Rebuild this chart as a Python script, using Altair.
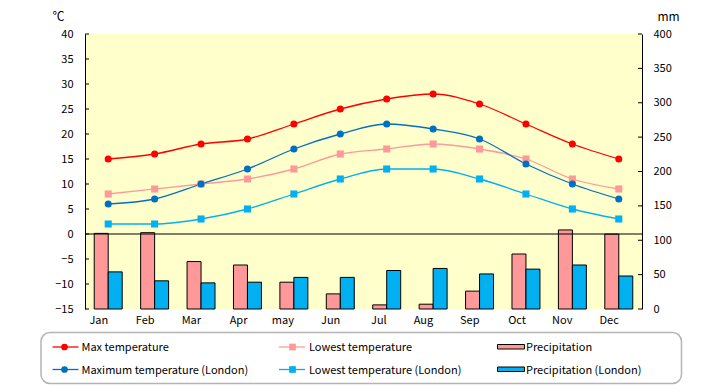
import altair as alt
import pandas as pd

months = ["Jan", "Feb", "Mar", "Apr", "may", "Jun", "Jul", "Aug", "Sep", "Oct", "Nov", "Dec"]
max_temp = [15, 16, 18, 19, 22, 25, 27, 28, 26, 22, 18, 15]
low_temp = [8, 9, 10, 11, 13, 16, 17, 18, 17, 15, 11, 9]
max_london = [6, 7, 10, 13, 17, 20, 22, 21, 19, 14, 10, 7]
low_london = [2, 2, 3, 5, 8, 11, 13, 13, 11, 8, 5, 3]
precip = [110, 111, 69, 64, 39, 22, 6, 7, 26, 80, 115, 109]
precip_london = [54, 41, 38, 39, 46, 46, 56, 59, 51, 58, 64, 48]
temp_ticks = list(range(-15, 45, 5))
mm_ticks = list(range(0, 450, 50))

temp_series = ["Max temperature", "Lowest temperature",
               "Maximum temperature (London)", "Lowest temperature (London)"]
temp_colors = ["#FF0000", "#FF9999", "#0070C0", "#00B0F0"]
temp_shapes = ["circle", "square", "circle", "square"]
bar_series = ["Precipitation", "Precipitation (London)"]
bar_colors = ["#FF9999", "#00B0F0"]

FONT = "Noto Sans CJK JP"
W, H = 557, 275

rows = []
for s, vals in zip(temp_series, [max_temp, low_temp, max_london, low_london]):
    for m, v in zip(months, vals):
        rows.append({"month": m, "series": s, "value": v})
temp_df = pd.DataFrame(rows)

rows = []
for s, vals in zip(bar_series, [precip, precip_london]):
    for m, v in zip(months, vals):
        rows.append({"month": m, "series": s, "value": v})
bar_df = pd.DataFrame(rows)

x_enc = alt.X("month:N", sort=months, title=None,
              scale=alt.Scale(paddingInner=0, paddingOuter=0),
              axis=alt.Axis(domain=False, ticks=False, labelAngle=0, labelPadding=11,
                            labelOverlap=False,
                            labelFont=FONT, labelFontSize=11, labelColor="black"))

temp_scale = alt.Scale(domain=[-15, 40], nice=False, zero=False)
mm_scale = alt.Scale(domain=[0, 400], nice=False)

temp_axis = alt.Axis(orient="left", values=temp_ticks, tickSize=0, labelPadding=12,
                     labelOverlap=False, labelFlush=False,
                     domainColor="black", domainWidth=1, grid=False,
                     labelFont=FONT, labelFontSize=11, labelColor="black",
                     titleAngle=0, titleX=-27, titleY=-18, titleFont=FONT,
                     titleFontSize=12, titleFontWeight="normal", titleColor="black",
                     titleAlign="center", titleBaseline="middle")
mm_axis = alt.Axis(orient="right", values=mm_ticks, tickSize=0, labelPadding=11,
                   labelOverlap=False, labelFlush=False,
                   domainColor="black", domainWidth=1, grid=False,
                   labelFont=FONT, labelFontSize=11, labelColor="black",
                   titleAngle=0, titleX=26, titleY=-18, titleFont=FONT,
                   titleFontSize=12, titleFontWeight="normal", titleColor="black",
                   titleAlign="center", titleBaseline="middle")

lines = alt.Chart(temp_df).mark_line(strokeWidth=1.3, interpolate="monotone").encode(
    x=x_enc,
    y=alt.Y("value:Q", scale=temp_scale, title="℃", axis=temp_axis),
    color=alt.Color("series:N", scale=alt.Scale(domain=temp_series, range=temp_colors), legend=None),
    detail="series:N",
)
points = alt.Chart(temp_df).mark_point(filled=True, size=50, opacity=1).encode(
    x=alt.X("month:N", sort=months),
    y=alt.Y("value:Q", scale=temp_scale, title="℃", axis=temp_axis),
    color=alt.Color("series:N", scale=alt.Scale(domain=temp_series, range=temp_colors), legend=None),
    shape=alt.Shape("series:N", scale=alt.Scale(domain=temp_series, range=temp_shapes), legend=None),
)
zero = alt.Chart(pd.DataFrame({"value": [0]})).mark_rule(color="black", strokeWidth=1).encode(
    y=alt.Y("value:Q", scale=temp_scale, title="℃", axis=temp_axis))
tticks = alt.Chart(pd.DataFrame({"value": temp_ticks})).mark_rule(color="black", strokeWidth=1).encode(
    y=alt.Y("value:Q", scale=temp_scale, title="℃", axis=temp_axis), x=alt.value(0), x2=alt.value(4))

temp_group = alt.layer(lines, points, zero, tticks)

bars = alt.Chart(bar_df).mark_bar(stroke="black", strokeWidth=1).encode(
    x=alt.X("month:N", sort=months),
    xOffset=alt.XOffset("series:N", sort=bar_series,
                        scale=alt.Scale(paddingInner=0, paddingOuter=0.66)),
    y=alt.Y("value:Q", scale=mm_scale, title="mm", axis=mm_axis),
    color=alt.Color("series:N", scale=alt.Scale(domain=bar_series, range=bar_colors), legend=None),
)
mticks = alt.Chart(pd.DataFrame({"value": mm_ticks})).mark_rule(color="black", strokeWidth=1).encode(
    y=alt.Y("value:Q", scale=mm_scale, title="mm", axis=mm_axis), x=alt.value(W - 4), x2=alt.value(W))

bar_group = alt.layer(bars, mticks)

one = pd.DataFrame({"a": [0]})
legend_layers = [
    alt.Chart(one).mark_rect(fill="white", stroke="#B4B4B4", strokeWidth=1.5, cornerRadius=9).encode(
        x=alt.value(-44), x2=alt.value(596.5), y=alt.value(298.5), y2=alt.value(349.5))
]
cols = [(-32.5, -6.5, -20.5, -3.5), (194, 220, 207.5, 224)]
rowy = [313, 335.5]
entries = [(0, 0, 0), (1, 0, 1), (0, 1, 2), (1, 1, 3)]
for c, r, i in entries:
    x1, x2, xm, xt = cols[c]
    y = rowy[r]
    legend_layers.append(alt.Chart(one).mark_rule(color=temp_colors[i], strokeWidth=1.3).encode(
        x=alt.value(x1), x2=alt.value(x2), y=alt.value(y)))
    legend_layers.append(alt.Chart(one).mark_point(filled=True, size=45, opacity=1,
                                                   shape=temp_shapes[i], color=temp_colors[i]).encode(
        x=alt.value(xm), y=alt.value(y)))
    legend_layers.append(alt.Chart(one).mark_text(align="left", baseline="middle", font=FONT,
                                                  fontSize=11, color="black", text=temp_series[i]).encode(
        x=alt.value(xt), y=alt.value(y + 1)))
for r, i in [(0, 0), (1, 1)]:
    y = rowy[r]
    legend_layers.append(alt.Chart(one).mark_rect(fill=bar_colors[i], stroke="black", strokeWidth=1).encode(
        x=alt.value(412.5), x2=alt.value(439.5), y=alt.value(y - 2.5), y2=alt.value(y + 2)))
    legend_layers.append(alt.Chart(one).mark_text(align="left", baseline="middle", font=FONT,
                                                  fontSize=11, color="black", text=bar_series[i]).encode(
        x=alt.value(441), y=alt.value(y + 1)))

chart = alt.layer(bar_group, temp_group, *legend_layers).resolve_scale(
    y="independent", color="independent", shape="independent"
).properties(
    width=W, height=H,
    autosize=alt.AutoSizeParams(type="none"),
    padding={"left": 77, "top": 26, "right": 45, "bottom": 76},
    background="white",
).configure_view(fill="#FFFFCC", stroke=None).configure_axis(labelOverlap=False)

chart.save("out.html", embed_options={"renderer": "svg", "actions": False})
